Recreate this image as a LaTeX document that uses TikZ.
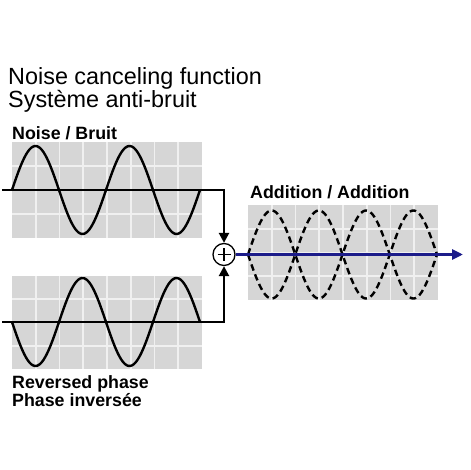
\documentclass[tikz,border=0pt]{standalone}
\usepackage{fontspec}
\setmainfont{Liberation Sans}
\usetikzlibrary{arrows.meta,calc}
\definecolor{cellgrey}{HTML}{D6D6D6}
\definecolor{gapgrey}{HTML}{F0F0F0}
\definecolor{navyline}{HTML}{1C1C8A}
\tikzset{
  wave/.style={line width=2.4pt, black},
  dashwave/.style={line width=2.4pt, black, dash pattern=on 6.5pt off 4pt},
  axisline/.style={line width=2.4pt, black},
  arr/.style={line width=2.4pt, -{Triangle[length=10pt,width=10pt]}},
  title/.style={anchor=base west, inner sep=0pt, align=left, font=\fontsize{23.4}{21}\selectfont},
  lbl/.style={anchor=base west, inner sep=0pt, align=left, font=\fontsize{17.8}{18}\selectfont\bfseries},
}
\newcommand{\mygrid}[4]{% x0,y0,x1,y1
  \fill[cellgrey] (#1,#2) rectangle (#3,#4);
  \foreach \i in {1,...,7}{
    \draw[gapgrey, line width=1.6pt] ({#1+\i*(#3-#1)/8},#2) -- ({#1+\i*(#3-#1)/8},#4);
  }
  \foreach \j in {1,2,3}{
    \draw[gapgrey, line width=1.6pt] (#1,{#2+\j*(#4-#2)/4}) -- (#3,{#2+\j*(#4-#2)/4});
  }
}
\begin{document}
\begin{tikzpicture}[x=1pt,y=-1pt]
\useasboundingbox[fill=white] (0,0) rectangle (470,470);

% grids
\mygrid{12}{142}{202}{238}
\mygrid{12}{276}{202}{369}
\mygrid{248}{205}{438}{300}

% title (anchor base = last line's baseline)
\node[title] (t1) at (8,108) {Noise canceling function\\Système anti-bruit};

% labels
\node[lbl] (l1) at (12,140) {Noise / Bruit};
\node[lbl] (l2) at (12,406) {Reversed phase\\Phase inversée};
\node[lbl] (l4) at (250,198) {Addition / Addition};

% waves
\draw[wave] plot[domain=0:188, samples=120, smooth] ({12+\x},{190-44*sin(\x*3.8298)});
\draw[wave] plot[domain=0:188, samples=120, smooth] ({12+\x},{322+44*sin(\x*3.8298)});

% summing node
\node[draw, circle, line width=1.3pt, minimum size=22pt, inner sep=0pt] (sum) at (224,254.5) {};
\draw[line width=1.3pt] ($(sum.center)+(-6.5,0)$) -- ($(sum.center)+(6.5,0)$);
\draw[line width=1.3pt] ($(sum.center)+(0,-6.5)$) -- ($(sum.center)+(0,6.5)$);

% axes and connectors
\coordinate (a1) at (2,190);
\coordinate (c1) at (224,190);
\coordinate (a2) at (2,322);
\coordinate (c2) at (224,322);
\draw[axisline] (a1) -- (c1);
\draw[arr] ($(c1)+(0,-1.2)$) -- (sum.north);
\draw[axisline] (a2) -- (c2);
\draw[arr] ($(c2)+(0,1.2)$) -- (sum.south);

% addition result
\draw[dashwave] plot[domain=0:189, samples=160, smooth] ({248+\x},{254.5-44*sin(\x*3.8095)});
\draw[dashwave] plot[domain=0:189, samples=160, smooth] ({248+\x},{254.5+44*sin(\x*3.8095)});
\coordinate (end) at (463,254.5);
\draw[navyline, line width=3pt, -{Triangle[length=11pt,width=10pt]}] (sum.east) -- (end);
\end{tikzpicture}
\end{document}
